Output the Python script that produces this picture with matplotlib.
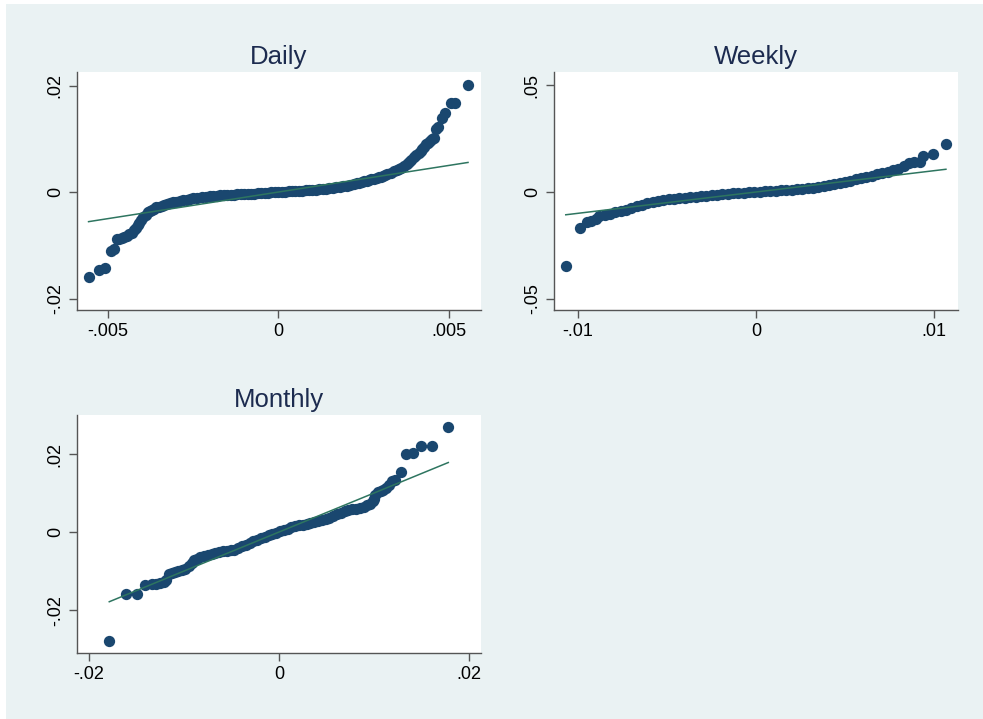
import matplotlib.pyplot as plt
from matplotlib.patches import Rectangle

plt.rcParams['font.family'] = ['Liberation Sans', 'DejaVu Sans']

# Daily: inverse-normal quantile (x) vs sorted return (y)
daily_x = [-0.00556, -0.00524, -0.00508, -0.00490, -0.00482, -0.00474, -0.00466, -0.00459,
           -0.00451, -0.00444, -0.00437, -0.00430, -0.00423, -0.00417, -0.00412, -0.00407,
           -0.00401, -0.00396, -0.00388, -0.00381, -0.00375, -0.00369, -0.00363, -0.00357,
           -0.00350, -0.00342, -0.00335, -0.00327, -0.00318, -0.00308, -0.00299, -0.00289,
           -0.00279, -0.00269, -0.00259, -0.00249, -0.00237, -0.00225, -0.00213, -0.00201,
           -0.0019, -0.0018, -0.0017, -0.0016, -0.0015, -0.0014, -0.0013, -0.0012, -0.0011,
           -0.0010, -0.0009, -0.0008, -0.0007, -0.0006, -0.0005, -0.0004, -0.0003, -0.0002,
           -0.0001, 0.0, 0.0001, 0.0002, 0.0003, 0.0004, 0.0005, 0.0006, 0.0007, 0.0008,
           0.0009, 0.0010, 0.0011, 0.0012, 0.0013, 0.0014, 0.0015, 0.0016, 0.0017, 0.0018,
           0.0019, 0.0020, 0.00211, 0.00222, 0.0023, 0.00237, 0.00245, 0.00252, 0.00259,
           0.00266, 0.00273, 0.00280, 0.00288, 0.00295, 0.00302, 0.00308, 0.00314, 0.00320,
           0.00330, 0.00339, 0.00347, 0.00354, 0.00361, 0.00368, 0.00376, 0.00383, 0.00390,
           0.00398, 0.00405, 0.00412, 0.00417, 0.00422, 0.00427, 0.00432, 0.00438, 0.00444,
           0.00450, 0.00456, 0.00463, 0.00469, 0.00480, 0.00490, 0.00505, 0.00518, 0.00556]
daily_y = [-0.0160, -0.01465, -0.0142, -0.01114, -0.01076, -0.00889, -0.0088, -0.0087,
           -0.00848, -0.00826, -0.00795, -0.00764, -0.00717, -0.0067, -0.00623, -0.00577,
           -0.00526, -0.00476, -0.00428, -0.00381, -0.00357, -0.00334, -0.0031, -0.00287,
           -0.00272, -0.00256, -0.0024, -0.00225, -0.0021, -0.00194, -0.00178, -0.00163,
           -0.00151, -0.0014, -0.00129, -0.00118, -0.00107, -0.00096, -0.00085, -0.00075,
           -0.00072, -0.00068, -0.00064, -0.0006, -0.00056, -0.00052, -0.00048, -0.00045, -0.00042,
           -0.00038, -0.00035, -0.00031, -0.00028, -0.00024, -0.0002, -0.00016, -0.00012, -0.00008,
           -0.00004, 0.0, 0.00004, 0.00008, 0.00012, 0.00016, 0.0002, 0.00024, 0.00028, 0.00033,
           0.00037, 0.00042, 0.00047, 0.00052, 0.00058, 0.00064, 0.00071, 0.00078, 0.00087, 0.00098,
           0.00109, 0.0012, 0.00135, 0.0015, 0.00163, 0.00175, 0.00188, 0.0020, 0.00213,
           0.00225, 0.00238, 0.0025, 0.00263, 0.00275, 0.00288, 0.0030, 0.00315, 0.0033,
           0.0036, 0.0039, 0.0041, 0.0043, 0.0046, 0.0049, 0.0053, 0.0057, 0.0061,
           0.0065, 0.0069, 0.0073, 0.0077, 0.0080, 0.0085, 0.0090, 0.0093, 0.0096,
           0.0099, 0.0101, 0.0118, 0.0123, 0.0140, 0.0148, 0.0168, 0.0168, 0.0202]

weekly_x = [-0.01069, -0.0099, -0.00948, -0.00925, -0.0090,
            -0.0088, -0.0085, -0.0082, -0.0079, -0.0076, -0.0073, -0.0070, -0.0067, -0.0064,
            -0.0061, -0.0058, -0.0055, -0.0052, -0.0049, -0.0046, -0.0043, -0.0040, -0.0037,
            -0.0034, -0.0031, -0.0028, -0.0025, -0.0022, -0.0019, -0.0016, -0.0013, -0.0010,
            -0.0007, -0.0004, -0.0001, 0.0002, 0.0005, 0.0008, 0.0011, 0.0014, 0.0017, 0.0020,
            0.0023, 0.0026, 0.0029, 0.0032, 0.0035, 0.0038, 0.0041, 0.0044, 0.0047, 0.0050,
            0.0053, 0.0056, 0.0059, 0.0062, 0.0065, 0.0068, 0.0071, 0.0074, 0.0077, 0.0080,
            0.0083, 0.0086, 0.0089, 0.0092, 0.0094, 0.00993, 0.01067]
weekly_y = [-0.0346, -0.0168, -0.0143, -0.0135, -0.0125,
            -0.0113, -0.0107, -0.0101, -0.0095, -0.0090, -0.0085, -0.0077, -0.0068, -0.0060,
            -0.0052, -0.0046, -0.0041, -0.0037, -0.0034, -0.0031, -0.0029, -0.0026, -0.0024,
            -0.0022, -0.0020, -0.0018, -0.0016, -0.0014, -0.0011, -0.0009, -0.0007, -0.0005,
            -0.0003, -0.0002, 0.0, 0.0001, 0.0003, 0.0005, 0.0006, 0.0008, 0.0009, 0.0011,
            0.0012, 0.0014, 0.0017, 0.0021, 0.0025, 0.0030, 0.0035, 0.0039, 0.0043, 0.0048,
            0.0053, 0.0059, 0.0064, 0.0070, 0.0077, 0.0084, 0.0090, 0.0096, 0.0102, 0.0110,
            0.0120, 0.0135, 0.0140, 0.0142, 0.0169, 0.0178, 0.0225]

monthly_x = [-0.01786, -0.01607, -0.01495, -0.01407, -0.01337, -0.01290, -0.01250, -0.01214,
             -0.01185, -0.01160, -0.01130, -0.01095, -0.01060, -0.01020, -0.00985, -0.00950,
             -0.00920, -0.00895, -0.00865, -0.00830, -0.00790, -0.00750, -0.00710, -0.00670,
             -0.00630, -0.00590, -0.00550, -0.00510, -0.00470, -0.00430, -0.00390, -0.00350,
             -0.00310, -0.00270, -0.00230, -0.00190, -0.00150, -0.00110, -0.00070, -0.00030,
             0.00010, 0.00050, 0.00090, 0.00130, 0.00170, 0.00210, 0.00250, 0.00290, 0.00330,
             0.00370, 0.00410, 0.00450, 0.00490, 0.00530, 0.00570, 0.00610, 0.00650, 0.00690,
             0.00730, 0.00770, 0.00810, 0.00850, 0.00890, 0.00925, 0.00960, 0.00990, 0.01002,
             0.01015, 0.01045, 0.01075, 0.01100, 0.01130, 0.01160, 0.01190, 0.01221, 0.01284,
             0.01337, 0.01407, 0.01491, 0.01607, 0.01782]
monthly_y = [-0.0279, -0.0159, -0.0159, -0.0136, -0.0133, -0.0132, -0.0131, -0.0128,
             -0.0122, -0.0108, -0.0104, -0.0102, -0.0100, -0.0098, -0.0094, -0.0088,
             -0.0080, -0.0072, -0.0068, -0.0065, -0.0062, -0.0059, -0.0056, -0.0053,
             -0.0051, -0.0049, -0.0048, -0.0047, -0.0045, -0.0042, -0.0037, -0.0032,
             -0.0028, -0.0024, -0.0020, -0.0016, -0.0012, -0.0008, -0.0005, -0.0002,
             0.0002, 0.0006, 0.0009, 0.0012, 0.0015, 0.0017, 0.0019, 0.0021, 0.0023,
             0.0025, 0.0028, 0.0031, 0.0034, 0.0037, 0.0041, 0.0045, 0.0049, 0.0053,
             0.0056, 0.0058, 0.0060, 0.0062, 0.0065, 0.0069, 0.0073, 0.0080, 0.0085,
             0.0096, 0.0102, 0.0106, 0.0109, 0.0114, 0.0120, 0.0131, 0.0133, 0.0153,
             0.0199, 0.0202, 0.0221, 0.0221, 0.0269]

panels = [
    ('Daily', daily_x, daily_y, [-0.005, 0, 0.005], ['-.005', '0', '.005'],
     [-0.02, 0, 0.02], ['-.02', '0', '.02'], (-0.0059, 0.00594), (-0.02216, 0.02254)),
    ('Weekly', weekly_x, weekly_y, [-0.01, 0, 0.01], ['-.01', '0', '.01'],
     [-0.05, 0, 0.05], ['-.05', '0', '.05'], (-0.01135, 0.01135), (-0.0554, 0.0563)),
    ('Monthly', monthly_x, monthly_y, [-0.02, 0, 0.02], ['-.02', '0', '.02'],
     [-0.02, 0, 0.02], ['-.02', '0', '.02'], (-0.02126, 0.02126), (-0.031, 0.030)),
]
positions = [[0.0783, 0.5688, 0.411, 0.331],
             [0.5636, 0.5688, 0.411, 0.331],
             [0.0783, 0.0918, 0.411, 0.331]]

fig = plt.figure(figsize=(9.83, 7.19), dpi=100)
fig.patches.append(Rectangle((6 / 983, 0), 1, 1 - 4 / 719, transform=fig.transFigure,
                             facecolor='#eaf2f3', edgecolor='none', zorder=-10))

for (title, xs, ys, xt, xtl, yt, ytl, xl, yl), pos in zip(panels, positions):
    ax = fig.add_axes(pos)
    ax.set_facecolor('white')
    ax.scatter(xs, ys, s=66, color='#1a476f', linewidths=0, zorder=2)
    lo, hi = min(xs), max(xs)
    # reference line y = x between the smallest and largest quantile
    ax.plot([lo, hi], [lo, hi], color='#2e7560', lw=1.1, zorder=3)
    ax.set_xlim(xl)
    ax.set_ylim(yl)
    ax.set_xticks(xt)
    ax.set_xticklabels(xtl)
    ax.set_yticks(yt)
    ax.set_yticklabels(ytl, rotation=90, va='center')
    for s in ['top', 'right']:
        ax.spines[s].set_visible(False)
    for s in ['left', 'bottom']:
        ax.spines[s].set_color('#555555')
        ax.spines[s].set_linewidth(1.0)
    ax.tick_params(length=5.5, width=1.0, color='#555555', labelsize=13, pad=4)
    ax.set_title(title, fontsize=18.5, color='#1c2b4f', pad=6)

fig.savefig('out.png', dpi=100)
